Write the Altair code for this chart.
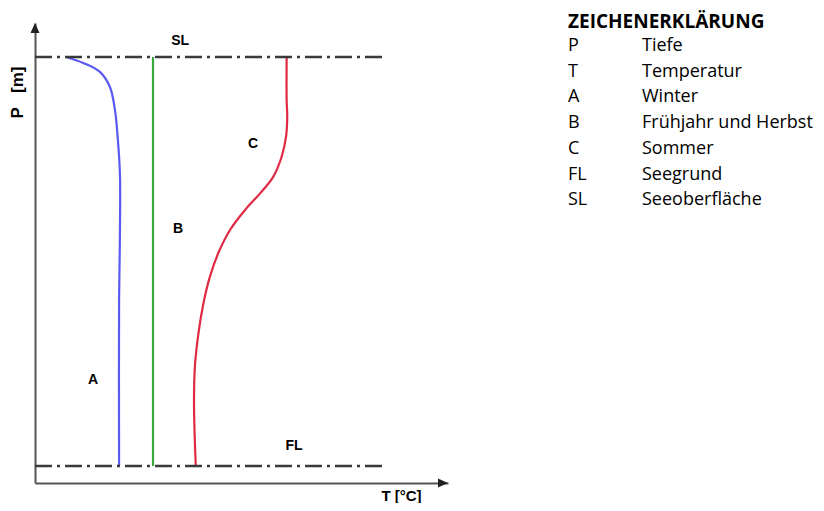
import altair as alt
import pandas as pd

# ---- data (T in arbitrary °C units, D depth in m) ----
winter_T = [1.05, 1.63, 2.20, 2.54, 2.71, 2.81, 2.88, 2.88, 2.85, 2.85]
winter_D = [0.0, 0.29, 0.73, 1.47, 2.59, 4.06, 5.77, 8.46, 11.88, 20.0]

spring_T = [4.0, 4.0]
spring_D = [0.0, 20.0]

summer_T = [8.53, 8.53, 8.55, 8.51, 8.36, 8.08, 7.63, 7.12, 6.61, 6.21,
            5.93, 5.71, 5.54, 5.42, 5.39, 5.41, 5.45]
summer_D = [0.0, 2.10, 2.92, 3.90, 4.88, 5.85, 6.67, 7.48, 8.46, 9.60,
            10.74, 12.04, 13.51, 15.14, 16.77, 18.40, 20.0]

series_names = ["A", "B", "C"]
series_colors = ["#5a5af0", "#3aa83a", "#e02a44"]

level_names = ["SL", "FL"]
level_D = [0.0, 20.0]
level_T_start = [0.0, 0.0]
level_T_end = [11.86, 11.86]

label_text = ["SL", "C", "B", "A", "FL"]
label_T = [4.92, 7.39, 4.85, 1.97, 8.78]
label_D = [-0.78, 4.25, 8.41, 15.79, 19.02]

legend_title = "ZEICHENERKLÄRUNG"
legend_keys = ["P", "T", "A", "B", "C", "FL", "SL"]
legend_values = ["Tiefe", "Temperatur", "Winter", "Frühjahr und Herbst",
                 "Sommer", "Seegrund", "Seeoberfläche"]

T_MIN, T_MAX = 0.0, 14.0
D_MIN, D_MAX = -1.66, 20.83

# ---- tables ----
rows = []
for name, Ts, Ds in zip(series_names, [winter_T, spring_T, summer_T],
                        [winter_D, spring_D, summer_D]):
    for i, (t, d) in enumerate(zip(Ts, Ds)):
        rows.append({"series": name, "T": t, "D": d, "i": i})
curves = pd.DataFrame(rows)

levels = pd.DataFrame({"name": level_names, "D": level_D,
                       "T0": level_T_start, "T1": level_T_end})
labels = pd.DataFrame({"label": label_text, "T": label_T, "D": label_D})
arrow_x = pd.DataFrame({"T": [T_MAX], "D": [D_MAX]})
arrow_y = pd.DataFrame({"T": [T_MIN], "D": [D_MIN]})
legend_df = pd.DataFrame({"title": [legend_title],
                          "keys": ["\n".join(legend_keys)],
                          "vals": ["\n".join(legend_values)]})

xs = alt.Scale(domain=[T_MIN, T_MAX], nice=False, zero=False)
ys = alt.Scale(domain=[D_MIN, D_MAX], nice=False, zero=False, reverse=True)

xaxis = alt.Axis(title="T [°C]", domain=True, domainColor="#555555", domainWidth=2,
                 ticks=False, labels=False, grid=False,
                 titleFont="Liberation Sans", titleFontSize=15, titleFontWeight="bold",
                 titleColor="#000000", titleX=366, titleY=12,
                 titleAlign="center", titleBaseline="middle")
yaxis = alt.Axis(title="P\u00a0\u00a0\u00a0[m]", domain=True, domainColor="#555555",
                 domainWidth=2, ticks=False, labels=False, grid=False,
                 titleFont="Liberation Sans", titleFontSize=17, titleFontWeight="bold",
                 titleColor="#000000", titleX=-18, titleY=69, titleAngle=270,
                 titleAlign="center", titleBaseline="middle")

base_x = alt.X("T:Q", scale=xs, axis=xaxis)
base_y = alt.Y("D:Q", scale=ys, axis=yaxis)

lines = alt.Chart(curves).mark_line(strokeWidth=2.2, interpolate="catmull-rom").encode(
    x=base_x,
    y=base_y,
    color=alt.Color("series:N", scale=alt.Scale(domain=series_names, range=series_colors),
                    legend=None),
    order="i:Q",
    detail="series:N",
)

rules = alt.Chart(levels).mark_rule(strokeDash=[17, 5, 3, 5], strokeWidth=2.5,
                                    color="#3a3a3a").encode(
    x=alt.X("T0:Q", scale=xs),
    x2="T1:Q",
    y=alt.Y("D:Q", scale=ys),
)

text_labels = alt.Chart(labels).mark_text(font="Liberation Sans", fontSize=14,
                                          fontWeight="bold", color="#000000",
                                          align="center", baseline="middle").encode(
    x=alt.X("T:Q", scale=xs),
    y=alt.Y("D:Q", scale=ys),
    text="label:N",
)

ax_arrow = alt.Chart(arrow_x).mark_point(shape="M0,0L-1,-0.45L-1,0.45Z", size=400,
                                         filled=True, opacity=1, color="#222222").encode(
    x=alt.X("T:Q", scale=xs), y=alt.Y("D:Q", scale=ys))
ay_arrow = alt.Chart(arrow_y).mark_point(shape="M0,0L-0.45,1L0.45,1Z", size=400,
                                         filled=True, opacity=1, color="#222222").encode(
    x=alt.X("T:Q", scale=xs), y=alt.Y("D:Q", scale=ys))

leg_title = alt.Chart(legend_df).mark_text(font="Open Sans", fontSize=19, fontWeight="bold",
                                           color="#000000", align="left",
                                           baseline="middle").encode(
    x=alt.value(533), y=alt.value(-1), text="title:N")
leg_keys = alt.Chart(legend_df).mark_text(font="Open Sans", fontSize=18, color="#000000",
                                          align="left", baseline="middle",
                                          lineBreak="\n", lineHeight=25.7).encode(
    x=alt.value(533), y=alt.value(23), text="keys:N")
leg_vals = alt.Chart(legend_df).mark_text(font="Open Sans", fontSize=18, color="#000000",
                                          align="left", baseline="middle",
                                          lineBreak="\n", lineHeight=25.7).encode(
    x=alt.value(607), y=alt.value(23), text="vals:N")

chart = alt.layer(lines, rules, text_labels, ax_arrow, ay_arrow,
                  leg_title, leg_keys, leg_vals).properties(
    width=413, height=460,
    autosize=alt.AutoSizeParams(type="none"),
    padding={"left": 27, "top": 15, "right": 368, "bottom": 20},
    background="#ffffff",
).configure_view(stroke=None)

chart.save("out.html", embed_options={"renderer": "svg", "actions": False})
